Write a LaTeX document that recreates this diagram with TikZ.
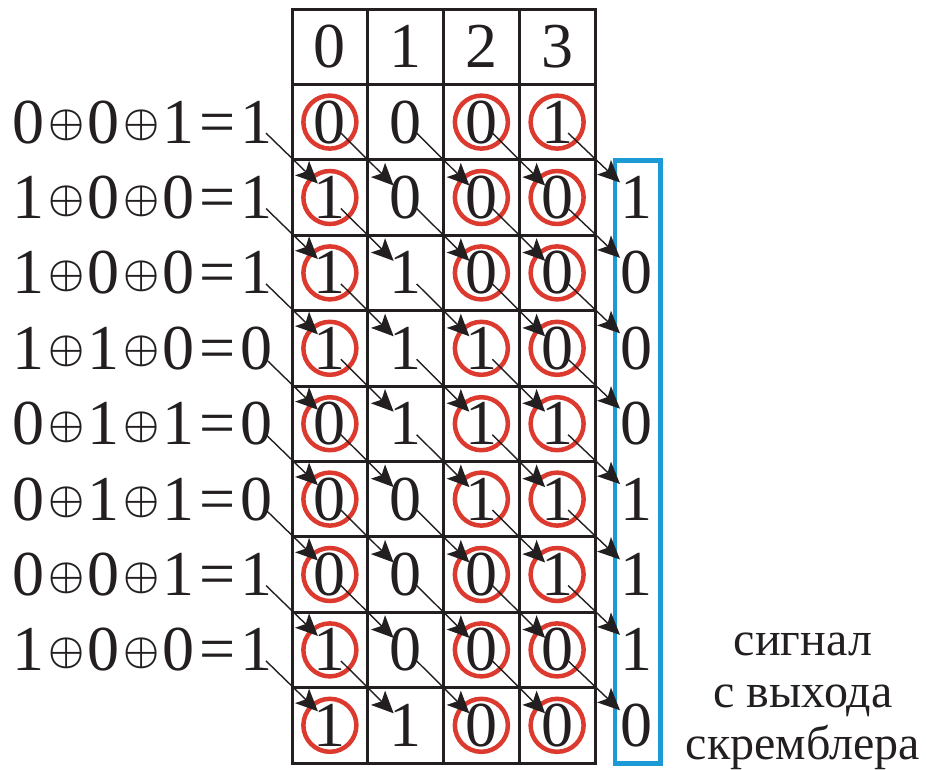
\documentclass[tikz,border=0pt]{standalone}
\usepackage{graphicx}
\usepackage{fontspec}
\setmainfont{Liberation Serif}
\usetikzlibrary{arrows.meta}
\definecolor{gridc}{HTML}{231F20}
\definecolor{circc}{HTML}{DC3A2E}
\definecolor{boxc}{HTML}{1B9AD6}
\newcommand\opl{\makebox[43pt]{\raisebox{7.5pt}{\scalebox{4.05}{\fontsize{10}{12}\selectfont\boldmath$\oplus$}}}}
\newcommand\eqn[4]{#1\opl#2\opl#3\hspace{5pt}=\hspace{5pt}#4}
\tikzset{arr/.style={draw=gridc, line width=1.4pt, -{Stealth[length=22pt,width=20pt,inset=5pt]}}}
\begin{document}
\begin{tikzpicture}[x=1pt,y=-1pt,
  digit/.style={font=\fontsize{64}{64}\selectfont, inner sep=0pt, text height=42pt, text depth=0pt, text=gridc},
  ring/.style={draw=circc, line width=4.5pt, circle, minimum size=53pt, inner sep=0pt},
  gridline/.style={draw=gridc, line width=3pt},
  outbox/.style={draw=boxc, line width=4.5pt},
  caption/.style={font=\fontsize{48}{52}\selectfont, inner sep=0pt, anchor=base, text=gridc}]
\useasboundingbox (0,0) rectangle (926,769);
% header
\foreach \c in {0,1,2,3}
  \node[digit] (h-\c) at ({292+75.75*(\c+0.5)}, {9+75.4*0.5}) {\c};
% cells
\foreach \r/\a/\b/\cc/\d in {1/0/0/0/1, 2/1/0/0/0, 3/1/1/0/0, 4/1/1/1/0, 5/0/1/1/1, 6/0/0/1/1, 7/0/0/0/1, 8/1/0/0/0, 9/1/1/0/0}{
  \node[ring] (k-\r-0) at ({292+75.75*0.5}, {9+75.4*(\r+0.5)}) {};
  \node[ring] (k-\r-2) at ({292+75.75*2.5}, {9+75.4*(\r+0.5)}) {};
  \node[ring] (k-\r-3) at ({292+75.75*3.5}, {9+75.4*(\r+0.5)}) {};
  \node[digit] (c-\r-0) at ({292+75.75*0.5}, {9+75.4*(\r+0.5)}) {\a};
  \node[digit] (c-\r-1) at ({292+75.75*1.5}, {9+75.4*(\r+0.5)}) {\b};
  \node[digit] (c-\r-2) at ({292+75.75*2.5}, {9+75.4*(\r+0.5)}) {\cc};
  \node[digit] (c-\r-3) at ({292+75.75*3.5}, {9+75.4*(\r+0.5)}) {\d};
}
% equations
\foreach \r/\a/\b/\cc/\d in {1/0/0/1/1, 2/1/0/0/1, 3/1/0/0/1, 4/1/1/0/0, 5/0/1/1/0, 6/0/1/1/0, 7/0/0/1/1, 8/1/0/0/1}
  \node[digit, anchor=east] (e-\r) at (273, {9+75.4*(\r+0.5)}) {\eqn{\a}{\b}{\cc}{\d}};
% output column
\foreach \r/\v in {2/1, 3/0, 4/0, 5/0, 6/1, 7/1, 8/1, 9/0}
  \node[digit] (o-\r) at (636, {9+75.4*(\r+0.5)}) {\v};
% grid
\draw[gridline] (292,9) rectangle (595,763);
\foreach \i in {1,2,3}
  \draw[gridline] ({292+75.75*\i}, 9) -- ({292+75.75*\i}, 763);
\foreach \j in {1,...,9}
  \draw[gridline] (292, {9+75.4*\j}) -- (595, {9+75.4*\j});
% output box
\draw[outbox] (614.8,160.5) rectangle (660.5,763.5);
% arrows
\foreach \r in {1,...,8}{
  \pgfmathtruncatemacro\n{\r+1}
  \foreach \c in {0,1,2}{
    \pgfmathtruncatemacro\m{\c+1}
    \draw[arr] ([shift={(11,11)}]c-\r-\c.center) -- ([shift={(-12,-12)}]c-\n-\m.center);
  }
  \draw[arr] ([shift={(11,11)}]c-\r-3.center) -- ([shift={(-16,-15)}]o-\n.center);
  \draw[arr] ([shift={(-7,11)}]e-\r.east) -- ([shift={(-12,-14)}]c-\n-0.center);
}
% caption
\node[caption] (l1) at (803,655) {сигнал};
\node[caption] (l2) at (803,707) {с выхода};
\node[caption] (l3) at (803,759) {скремблера};
\end{tikzpicture}
\end{document}
